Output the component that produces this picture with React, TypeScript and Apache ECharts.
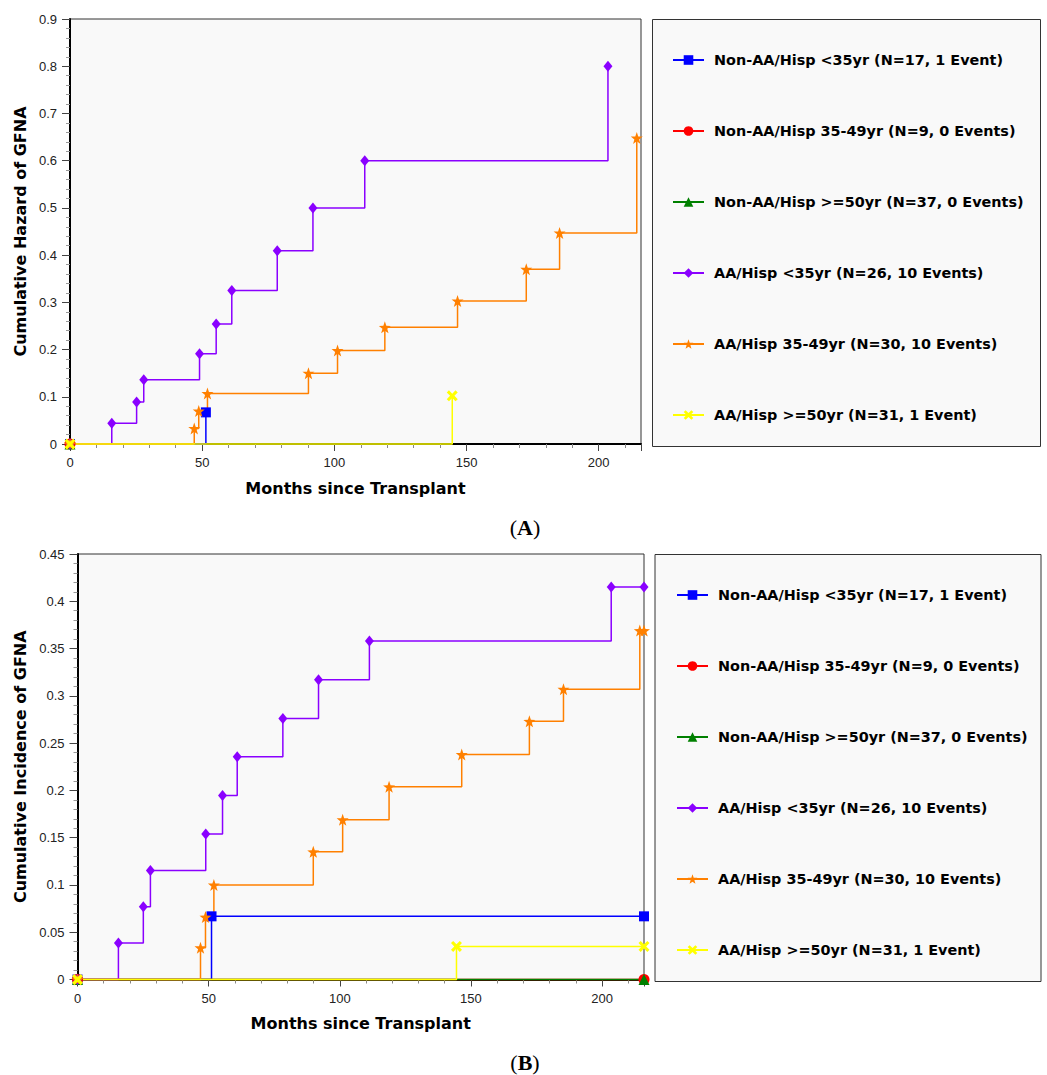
import React, { useEffect, useRef } from "react";
import * as echarts from "echarts";

// ---------- categories / legend ----------
const seriesNames = [
  "Non-AA/Hisp <35yr (N=17, 1 Event)",
  "Non-AA/Hisp 35-49yr (N=9, 0 Events)",
  "Non-AA/Hisp >=50yr (N=37, 0 Events)",
  "AA/Hisp <35yr (N=26, 10 Events)",
  "AA/Hisp 35-49yr (N=30, 10 Events)",
  "AA/Hisp >=50yr (N=31, 1 Event)",
];

// ---------- panel A: cumulative hazard [months, value] ----------
const hazNonAA35 = [[0, 0], [51.4, 0.067]];
const hazNonAA3549 = [[0, 0]];
const hazNonAA50 = [[0, 0]];
const hazAA35 = [
  [0, 0], [15.8, 0.044], [25.2, 0.089], [27.9, 0.136], [49.0, 0.191], [55.3, 0.254],
  [61.2, 0.325], [78.4, 0.409], [91.9, 0.5], [111.5, 0.6], [203.5, 0.8],
];
const hazAA3549 = [
  [0, 0], [47.0, 0.033], [48.7, 0.07], [52.0, 0.107], [90.2, 0.15], [101.2, 0.198],
  [119.1, 0.247], [146.6, 0.303], [172.6, 0.37], [185.2, 0.447], [214.4, 0.648],
];
const hazAA50 = [[0, 0], [144.6, 0.102]];

// ---------- panel B: cumulative incidence [months, value] ----------
const incNonAA35 = [[0, 0], [51.1, 0.0668], [216, 0.0668]];
const incNonAA3549 = [[0, 0], [216, 0]];
const incNonAA50 = [[0, 0], [216, 0]];
const incAA35 = [
  [0, 0], [15.6, 0.0386], [25.1, 0.077], [27.8, 0.1154], [48.9, 0.154], [55.3, 0.1947],
  [60.9, 0.2355], [78.3, 0.276], [91.9, 0.317], [111.3, 0.358], [203.5, 0.415], [216, 0.415],
];
const incAA3549 = [
  [0, 0], [46.9, 0.0336], [48.8, 0.066], [52.0, 0.0999], [89.9, 0.135], [101.1, 0.169],
  [118.8, 0.2038], [146.5, 0.238], [172.3, 0.273], [185.3, 0.307], [214.4, 0.369], [216, 0.369],
];
const incAA50 = [[0, 0], [144.5, 0.035], [216, 0.035]];

const hazardData = [hazNonAA35, hazNonAA3549, hazNonAA50, hazAA35, hazAA3549, hazAA50];
const incidenceData = [incNonAA35, incNonAA3549, incNonAA50, incAA35, incAA3549, incAA50];

// ---------- axes ----------
const xMax = 216;
const xLabelStep = 50;
const xMinorStep = 10;
const hazardYMax = 0.9;
const hazardYStep = 0.1;
const incidenceYMax = 0.45;
const incidenceYStep = 0.05;

// ---------- styles ----------
const colors = ["#0000ff", "#ff0000", "#008000", "#8a00ff", "#ff8000", "#ffff00"];
const STAR =
  "path://M10,0L12.35,6.76L19.51,6.91L13.8,11.24L15.88,18.09L10,14L4.12,18.09L6.2,11.24L0.49,6.91L7.65,6.76Z";
const XMARK = "path://M0,2L2,0L5,3L8,0L10,2L7,5L10,8L8,10L5,7L2,10L0,8L3,5Z";
const symbols = ["rect", "circle", "triangle", "diamond", STAR, XMARK];
const symbolSizes = [10, 11, 11, [9, 11], 12, 11];

const BOLD_FONT = "DejaVu Sans";
const TICK_FONT = "Liberation Sans, Arial, sans-serif";

function buildGridAxes(gridIndex: number, yMax: number, yStep: number, yName: string, yGap: number) {
  const labelStyle = { fontFamily: TICK_FONT, fontSize: 13, color: "#222" };
  const nameStyle = { fontFamily: BOLD_FONT, fontWeight: "bold" as const, fontSize: 16, color: "#000" };
  const xMain = {
    type: "value",
    gridIndex,
    min: 0,
    max: xMax,
    interval: xMinorStep,
    name: "Months since Transplant",
    nameLocation: "middle",
    nameGap: 36,
    nameTextStyle: nameStyle,
    axisLine: { show: true, onZero: false, lineStyle: { color: "#000", width: 2 } },
    axisTick: { show: true, length: 4, lineStyle: { color: "#888" } },
    axisLabel: {
      ...labelStyle,
      margin: 12,
      formatter: (v: number) => (v % xLabelStep === 0 ? String(v) : ""),
    },
    splitLine: { show: false },
  };
  const xMajor = {
    type: "value",
    gridIndex,
    min: 0,
    max: xMax,
    interval: xLabelStep,
    position: "bottom",
    axisLine: { show: false },
    axisTick: { show: true, length: 7, lineStyle: { color: "#444" } },
    axisLabel: { show: false },
    splitLine: { show: false },
  };
  const y = {
    type: "value",
    gridIndex,
    min: 0,
    max: yMax,
    interval: yStep,
    name: yName,
    nameLocation: "middle",
    nameGap: yGap,
    nameTextStyle: nameStyle,
    axisLine: { show: true, onZero: false, lineStyle: { color: "#000", width: 2 } },
    axisTick: { show: true, length: 8, lineStyle: { color: "#444" } },
    minorTick: { show: true, splitNumber: 5, length: 4, lineStyle: { color: "#999" } },
    axisLabel: { ...labelStyle, margin: 13 },
    splitLine: { show: false },
  };
  return { xMain, xMajor, y };
}

export default function App() {
  const ref = useRef<HTMLDivElement>(null);

  useEffect(() => {
    if (!ref.current) return;
    const chart = echarts.init(ref.current, undefined, { renderer: "svg" });

    const a = buildGridAxes(0, hazardYMax, hazardYStep, "Cumulative Hazard of GFNA", 39);
    const b = buildGridAxes(1, incidenceYMax, incidenceYStep, "Cumulative Incidence of GFNA", 46);

    const makeSeries = (datasets: number[][][], xAxisIndex: number, yAxisIndex: number) =>
      datasets.map((d, i) => ({
        type: "line",
        name: seriesNames[i],
        xAxisIndex,
        yAxisIndex,
        data: d,
        step: "end",
        symbol: symbols[i],
        symbolSize: symbolSizes[i],
        showSymbol: true,
        showAllSymbol: true,
        clip: false,
        itemStyle: { color: colors[i] },
        lineStyle: { color: colors[i], width: 1.5 },
        emphasis: { disabled: true },
      }));

    const legendCommon = {
      orient: "vertical",
      itemWidth: 31,
      itemHeight: 12,
      itemGap: 55,
      selectedMode: false,
      data: seriesNames,
      textStyle: {
        fontFamily: BOLD_FONT,
        fontWeight: "bold",
        fontSize: 14.4,
        color: "#000",
        lineHeight: 16,
        padding: [0, 0, 0, 5],
      },
    };

    const serifRich = {
      n: { fontFamily: "Liberation Serif, Times New Roman, serif", fontSize: 22, fill: "#000" },
      b: { fontFamily: "Liberation Serif, Times New Roman, serif", fontSize: 22, fontWeight: "bold", fill: "#000" },
    };

    const option: any = {
      animation: false,
      backgroundColor: "#ffffff",
      grid: [
        { left: 70, top: 19, width: 571, height: 425, show: true, backgroundColor: "#f9f9f9", borderColor: "#333", borderWidth: 1 },
        { left: 77.5, top: 554, width: 566.5, height: 425.5, show: true, backgroundColor: "#f9f9f9", borderColor: "#333", borderWidth: 1 },
      ],
      xAxis: [a.xMain, a.xMajor, b.xMain, b.xMajor],
      yAxis: [a.y, b.y],
      legend: [
        { ...legendCommon, left: 667, top: 47 },
        { ...legendCommon, left: 671, top: 582 },
      ],
      graphic: [
        {
          type: "rect",
          z: -10,
          shape: { x: 652.5, y: 19.5, width: 388, height: 427 },
          style: { fill: "#f9f9f9", stroke: "#333", lineWidth: 1 },
        },
        {
          type: "rect",
          z: -10,
          shape: { x: 655, y: 554.5, width: 386, height: 427 },
          style: { fill: "#f9f9f9", stroke: "#333", lineWidth: 1 },
        },
        {
          type: "text",
          x: 525,
          y: 527,
          style: { text: "{n|(}{b|A}{n|)}", align: "center", verticalAlign: "middle", rich: serifRich },
        },
        {
          type: "text",
          x: 525,
          y: 1062,
          style: { text: "{n|(}{b|B}{n|)}", align: "center", verticalAlign: "middle", rich: serifRich },
        },
      ],
      series: [...makeSeries(hazardData, 0, 0), ...makeSeries(incidenceData, 2, 1)],
    };

    chart.setOption(option);
    return () => chart.dispose();
  }, []);

  return (
    <div
      ref={ref}
      style={{ position: "fixed", left: 0, top: 0, width: 1047, height: 1075, background: "#fff" }}
    />
  );
}
